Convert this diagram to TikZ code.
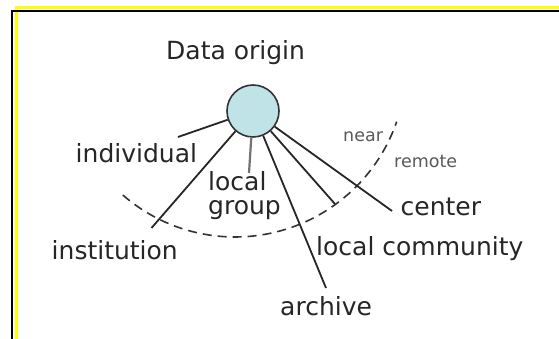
\documentclass[tikz,border=0pt]{standalone}
\usepackage{fontspec}
\newfontfamily\diagfont{DejaVu Sans}
\usepackage{tikz}
\definecolor{originfill}{RGB}{192,227,231}
\definecolor{frameyellow}{RGB}{255,255,0}
\tikzset{
  lbl/.style={font=\diagfont\fontsize{25}{28}\selectfont, text=black!85, inner sep=0pt, anchor=base west},
  smalllbl/.style={font=\diagfont\fontsize{17.5}{20}\selectfont, text=black!65, inner sep=0pt, anchor=base west},
  spoke/.style={line width=1.8pt, black!85},
}
\begin{document}
\begin{tikzpicture}[x=1pt,y=1pt]
  \useasboundingbox (0,0) rectangle (559,339);
  \fill[white] (0,0) rectangle (559,339);
  % frame
  \draw[frameyellow, line width=3pt] (16.3,0) -- (16.3,331) -- (559,331);
  \draw[black, line width=1.8pt] (12,0) -- (12,327.7) -- (559,327.7);
  % near / remote boundary
  \draw[black!80, line width=1.6pt, dash pattern=on 9pt off 6pt]
    (235,273) ++(229:171) arc (229:341:171);
  \node[smalllbl] (near) at (343,197.3) {near};
  \node[smalllbl] (remote) at (394,171.3) {remote};
  % origin
  \node[circle, draw=black!80, line width=1.6pt, fill=originfill,
        minimum size=52pt, inner sep=0pt] (origin) at (253,228) {};
  \node[lbl] (title) at (166,279) {Data origin};
  \coordinate (individualEnd) at (178,202);
  \coordinate (institutionEnd) at (151.5,111);
  \coordinate (groupEnd) at (249,166);
  \coordinate (archiveEnd) at (326,51);
  \coordinate (communityEnd) at (335,135);
  \coordinate (centerEnd) at (392,128);
  \draw[spoke] (origin) -- (individualEnd);
  \draw[spoke] (origin) -- (institutionEnd);
  \draw[spoke, black!55, line width=2.2pt] (origin) -- (groupEnd);
  \draw[spoke] (origin) -- (archiveEnd);
  \draw[spoke] (origin) -- (communityEnd);
  \draw[spoke] (origin) -- (centerEnd);
  % labels
  \node[lbl] (individual) at (75.5,176.3) {individual};
  \node[lbl] (local) at (208,148) {local};
  \node[lbl] (group) at (208,124) {group};
  \node[lbl] (institution) at (51.5,79.7) {institution};
  \node[lbl] (archive) at (280,23) {archive};
  \node[lbl] (community) at (316,83) {local community};
  \node[lbl] (center) at (400.5,123) {center};
\end{tikzpicture}
\end{document}
